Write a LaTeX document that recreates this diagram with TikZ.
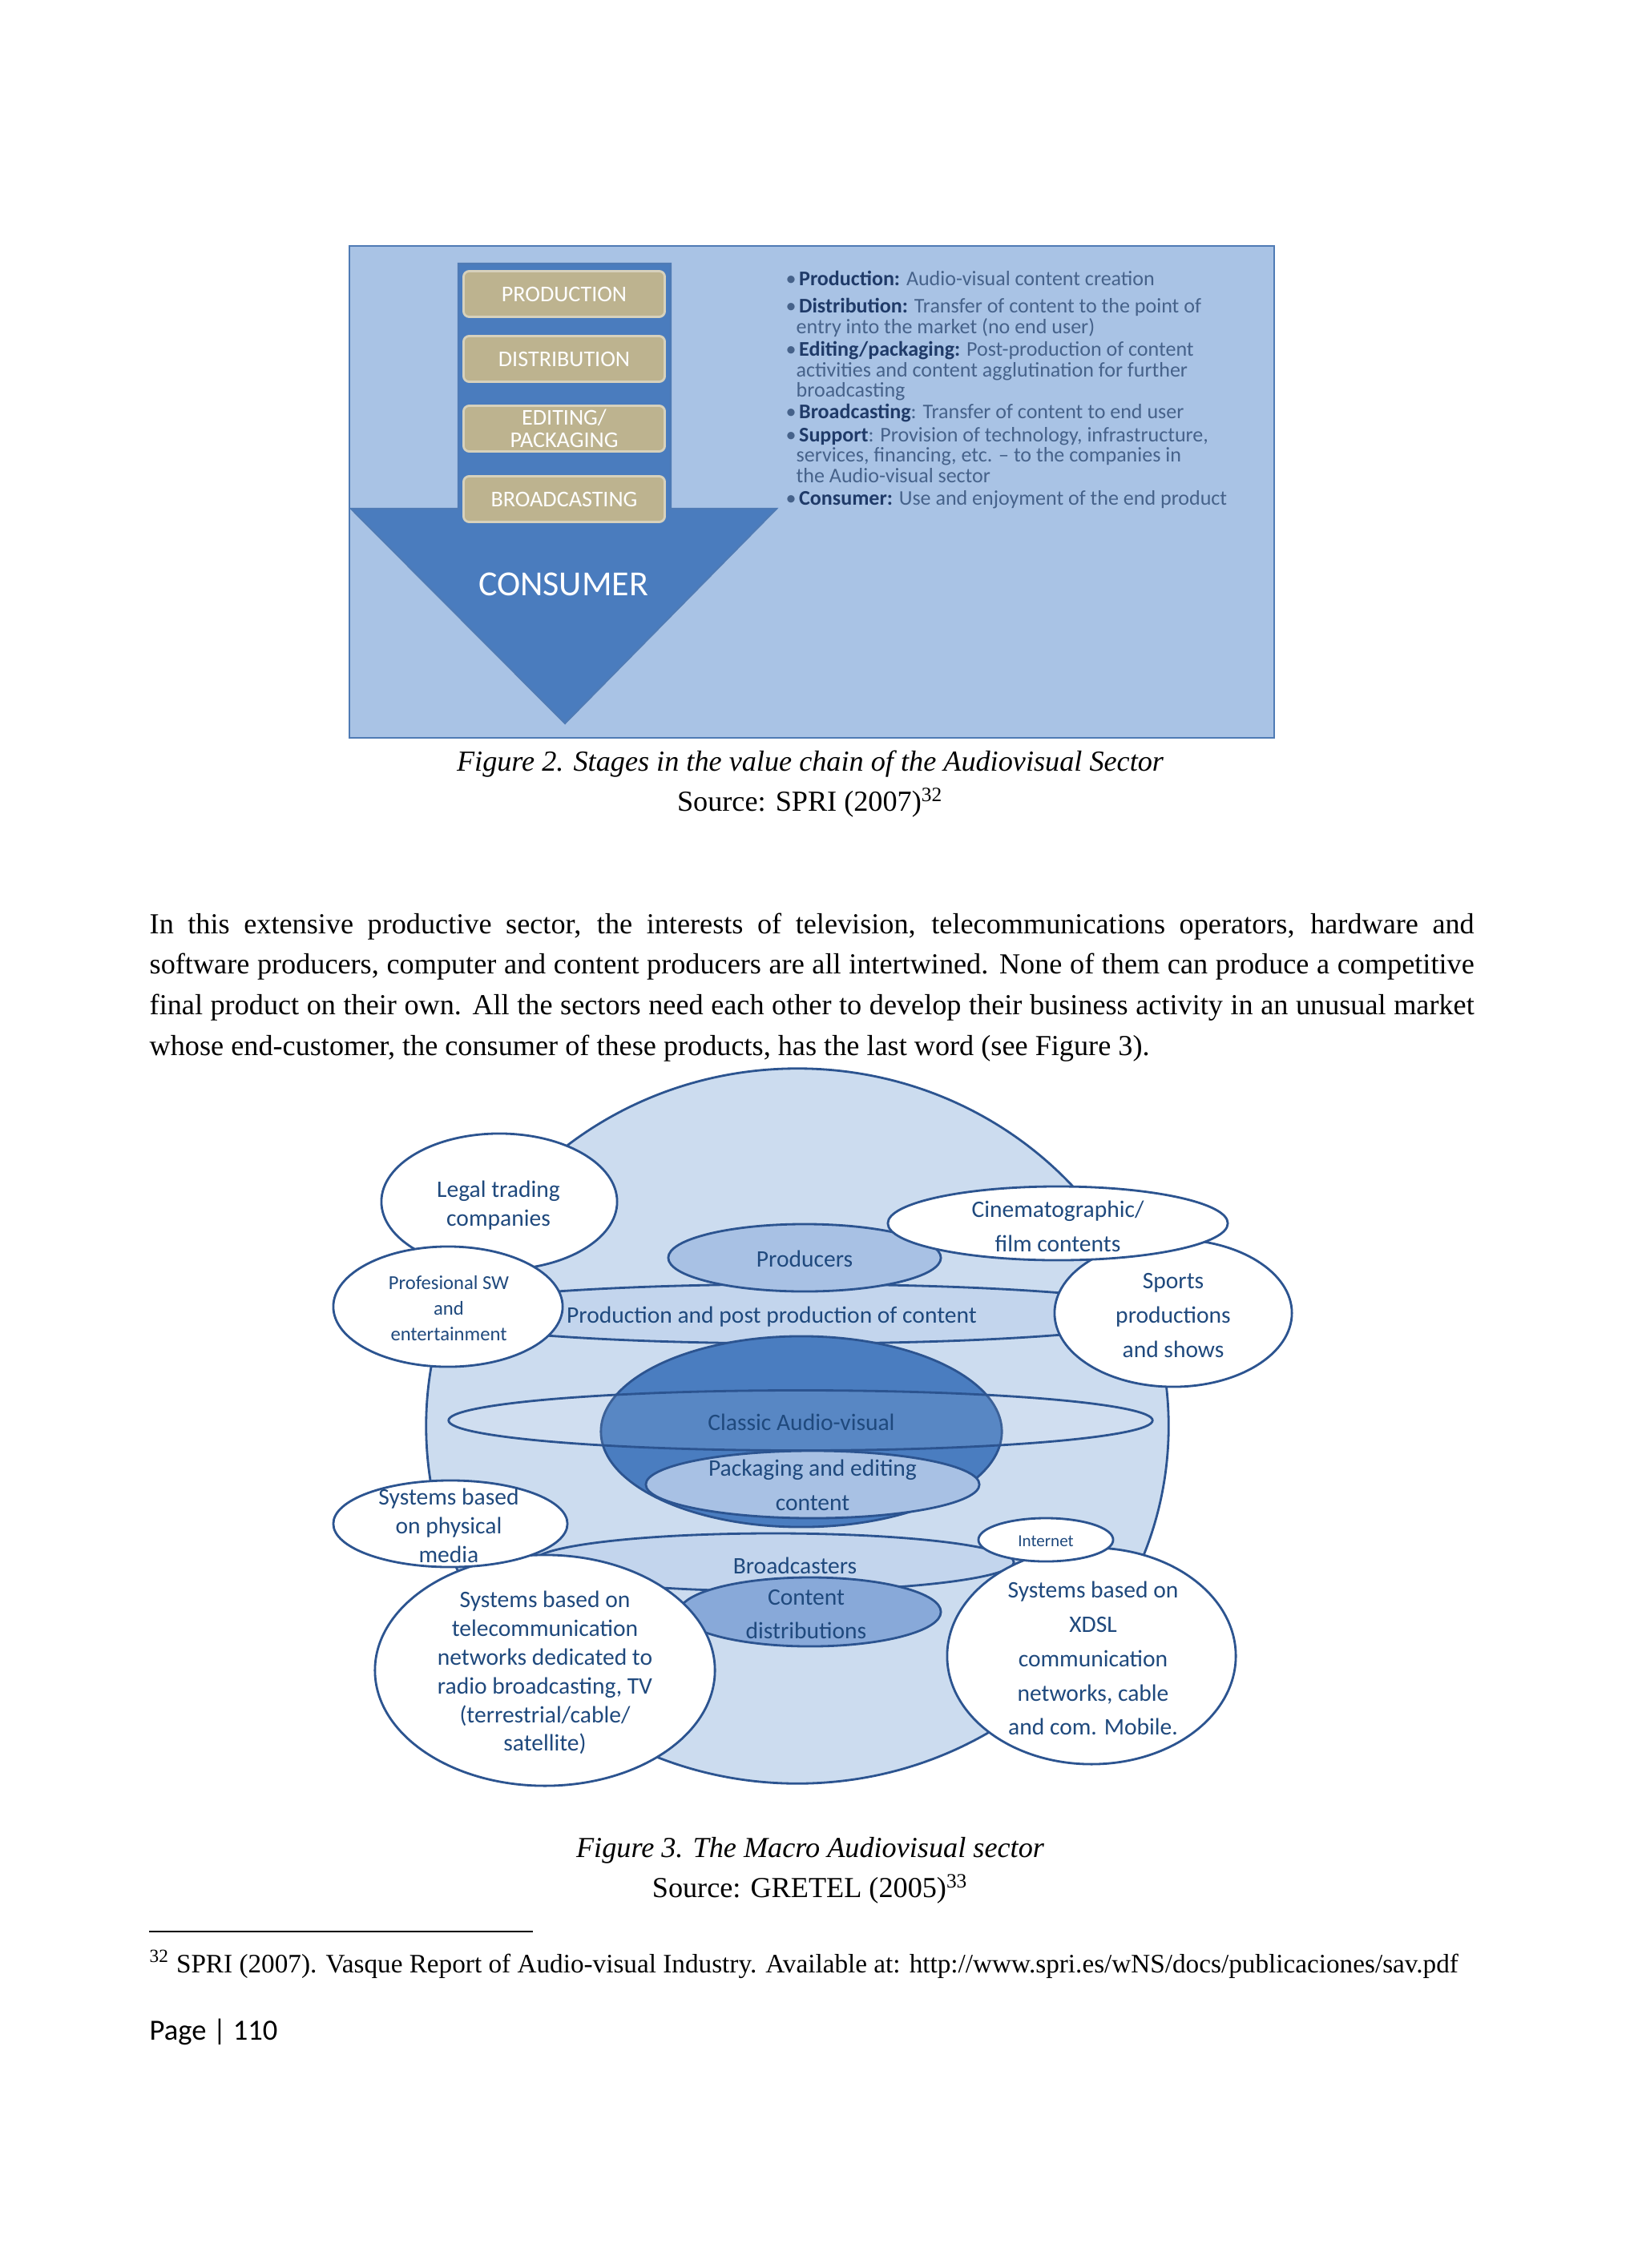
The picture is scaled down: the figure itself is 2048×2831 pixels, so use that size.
\documentclass[tikz,border=0pt]{standalone}
\usepackage{fontspec}
\setmainfont{Liberation Serif}
\newfontfamily\calfont{Carlito}
\usetikzlibrary{shapes.geometric}
\definecolor{panel}{HTML}{A9C3E5}
\definecolor{panelline}{HTML}{4F7BB5}
\definecolor{arrowblue}{HTML}{4A7CBE}
\definecolor{stagetan}{HTML}{BDB38F}
\definecolor{headblue}{HTML}{1F3A68}
\definecolor{bodyblue}{HTML}{46628A}
\definecolor{outerfill}{HTML}{CCDCEF}
\definecolor{bandfill}{HTML}{C3D5ED}
\definecolor{midfill}{HTML}{A8C1E4}
\definecolor{darkfill}{HTML}{4A7DC0}
\definecolor{distfill}{HTML}{88A9D9}
\definecolor{ellline}{HTML}{2C5490}
\definecolor{labelblue}{HTML}{1F497D}
\begin{document}
\begin{tikzpicture}[x=0.01cm, y=-0.01cm,
  stage/.style={rectangle, rounded corners=2pt, fill=stagetan, draw=stagetan!60!white, line width=0.8pt,
    minimum width=2.51cm, minimum height=0.57cm, text=white, align=center, inner sep=0pt,
    font=\calfont\fontsize{8}{8}\selectfont},
  bul/.style={anchor=base west, inner sep=0pt, text=bodyblue, font=\calfont\fontsize{7.4}{7.7}\selectfont},
  ell/.style={ellipse, draw=ellline, line width=0.8pt, inner sep=0pt},
  lbl/.style={text=labelblue, align=center, inner sep=0pt, font=\calfont\fontsize{8.4}{10.2}\selectfont},
  lblwide/.style={text=labelblue, align=center, inner sep=0pt, font=\calfont\fontsize{8.4}{12.2}\selectfont},
  captext/.style={inner sep=0pt, font=\fontsize{10.3}{12}\selectfont}
]
% page
\fill[white] (0,0) rectangle (2048,2831);
\useasboundingbox (0,0) rectangle (2048,2831);

% Figure 2: value chain
\draw[fill=panel, draw=panelline, line width=0.6pt] (436,307) rectangle (1590,921);
\filldraw[fill=arrowblue, draw=panelline, line width=0.6pt]
  (572,329) -- (837,329) -- (837,635) -- (969,635) -- (705,903) -- (438,635) -- (572,635) -- cycle;
\node[stage] (prod) at (704,367) {PRODUCTION};
\node[stage] (dist) at (704,448) {DISTRIBUTION};
\node[stage] (edit) at (704,535) {EDITING/\\PACKAGING};
\node[stage] (broad) at (704,623) {BROADCASTING};
\node[text=white, font=\calfont\fontsize{12.5}{14}\selectfont] (consumer) at (703,729) {CONSUMER};
% bullets
\node[bul] (b1) at (980,357) {\textbullet\hspace{1pt}\textbf{\color{headblue}Production:} Audio-visual content creation};
\node[bul] (b2) at (980,391) {\textbullet\hspace{1pt}\textbf{\color{headblue}Distribution:} Transfer of content to the point of};
\node[bul] (b3) at (993,417) {entry into the market (no end user)};
\node[bul] (b4) at (980,445) {\textbullet\hspace{1pt}\textbf{\color{headblue}Editing/packaging:} Post-production of content};
\node[bul] (b5) at (993,471) {activities and content agglutination for further};
\node[bul] (b6) at (993,496) {broadcasting};
\node[bul] (b7) at (980,523) {\textbullet\hspace{1pt}\textbf{\color{headblue}Broadcasting}: Transfer of content to end user};
\node[bul] (b8) at (980,551) {\textbullet\hspace{1pt}\textbf{\color{headblue}Support}: Provision of technology, infrastructure,};
\node[bul] (b9) at (993,577) {services, financing, etc. \textendash\ to the companies in};
\node[bul] (b10) at (993,603) {the Audio-visual sector};
\node[bul] (b11) at (980,630) {\textbullet\hspace{1pt}\textbf{\color{headblue}Consumer:} Use and enjoyment of the end product};

\node[captext] (cap2) at (1011,954) {\itshape Figure 2. Stages in the value chain of the Audiovisual Sector};
\node[captext] (src2) at (1011,1002) {Source: SPRI (2007)\textsuperscript{32}};

% paragraph
\node[anchor=north west, inner sep=0pt, text width=16.52cm, align=justify,
  font=\fontsize{10.3}{14.4}\selectfont] (para) at (186,1139)
  {In this extensive productive sector, the interests of television, telecommunications operators, hardware and\linebreak
   software producers, computer and content producers are all intertwined. None of them can produce a competitive\linebreak
   final product on their own. All the sectors need each other to develop their business activity in an unusual market\linebreak
   whose end-customer, the consumer of these products, has the last word (see Figure 3).};

% Figure 3: macro sector
\node[ell, fill=outerfill, minimum width=9.26cm, minimum height=8.92cm] (outer) at (995,1780) {};
\node[ell, fill=bandfill, minimum width=9.22cm, minimum height=0.74cm] (prodband) at (997,1640) {};
\node[ell, fill=darkfill, minimum width=5.0cm, minimum height=2.38cm] (classic) at (1000,1787) {};
\node[ell, fill=white, fill opacity=0.08, minimum width=8.78cm, minimum height=0.75cm] (classband) at (999,1773) {};
\node[ell, fill=midfill, minimum width=4.16cm, minimum height=0.84cm] (packaging) at (1014,1853) {};
\node[ell, fill=bandfill, minimum width=6.0cm, minimum height=0.72cm] (bcband) at (965,1950) {};
\node[ell, fill=distfill, minimum width=3.26cm, minimum height=0.86cm] (contdist) at (1011,2012) {};
\node[ell, fill=midfill, minimum width=3.4cm, minimum height=0.84cm] (producers) at (1004,1570) {};
\node[ell, fill=white, minimum width=2.94cm, minimum height=1.7cm] (legal) at (623,1500) {};
\node[ell, fill=white, minimum width=2.86cm, minimum height=1.5cm] (profsw) at (559,1631) {};
\node[ell, fill=white, minimum width=2.96cm, minimum height=1.84cm] (sports) at (1464,1639) {};
\node[ell, fill=white, minimum width=4.24cm, minimum height=0.92cm] (cinema) at (1320,1527) {};
\node[ell, fill=white, minimum width=4.24cm, minimum height=2.88cm] (telecom) at (680,2085) {};
\node[ell, fill=white, minimum width=2.92cm, minimum height=1.08cm] (physical) at (562,1902) {};
\node[ell, fill=white, minimum width=3.6cm, minimum height=2.7cm] (xdsl) at (1362,2067) {};
\node[ell, fill=white, minimum width=1.68cm, minimum height=0.54cm] (internet) at (1305,1922) {};
% labels
\node[lbl] (legalT) at (622,1505) {Legal trading\\companies};
\node[lbl, font=\calfont\fontsize{7}{9.2}\selectfont] (profswT) at (560,1633) {Profesional SW\\and\\entertainment};
\node[lbl] (producersT) at (1004,1571) {Producers};
\node[lbl] (prodbandT) at (963,1644) {Production and post production of content};
\node[lblwide] (cinemaT) at (1320,1531) {Cinematographic/\\film contents};
\node[lblwide] (sportsT) at (1464,1642) {Sports\\productions\\and shows};
\node[lbl] (classicT) at (1000,1775) {Classic Audio-visual};
\node[lblwide] (packagingT) at (1014,1854) {Packaging and editing\\content};
\node[lbl] (physicalT) at (560,1904) {Systems based\\on physical\\media};
\node[lbl] (bcbandT) at (992,1954) {Broadcasters};
\node[lblwide] (contdistT) at (1006,2015) {Content\\distributions};
\node[lbl, font=\calfont\fontsize{6}{7}\selectfont] (internetT) at (1305,1924) {Internet};
\node[lbl] (telecomT) at (680,2088) {Systems based on\\telecommunication\\networks dedicated to\\radio broadcasting, TV\\(terrestrial/cable/\\satellite)};
\node[lblwide] (xdslT) at (1364,2070) {Systems based on\\XDSL\\communication\\networks, cable\\and com. Mobile.};

\node[captext] (cap3) at (1011,2310) {\itshape Figure 3. The Macro Audiovisual sector};
\node[captext] (src3) at (1011,2358) {Source: GRETEL (2005)\textsuperscript{33}};

% footnote
\coordinate (fa) at (186,2411);
\coordinate (fb) at (665,2411);
\draw[line width=0.6pt] (fa) -- (fb);
\node[anchor=west, inner sep=0pt, font=\fontsize{9.45}{12}\selectfont] (note) at (186,2452)
  {\textsuperscript{32} SPRI (2007). Vasque Report of Audio-visual Industry. Available at: http://www.spri.es/wNS/docs/publicaciones/sav.pdf};
\node[anchor=west, inner sep=0pt, font=\calfont\fontsize{10.4}{13}\selectfont] (page) at (186,2536) {Page | 110};
\end{tikzpicture}
\end{document}
